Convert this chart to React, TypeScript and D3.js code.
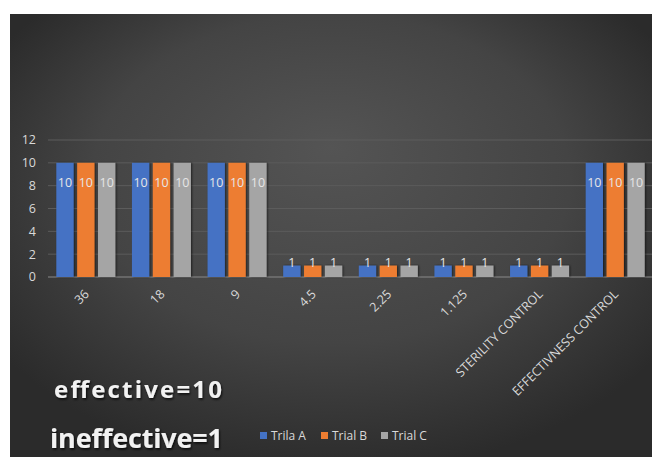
import React from "react";
import * as d3 from "d3";

const categories = ["36", "18", "9", "4.5", "2.25", "1.125", "STERILITY CONTROL", "EFFECTIVNESS CONTROL"];
const seriesNames = ["Trila A", "Trial B", "Trial C"];
const trialA = [10, 10, 10, 1, 1, 1, 1, 10];
const trialB = [10, 10, 10, 1, 1, 1, 1, 10];
const trialC = [10, 10, 10, 1, 1, 1, 1, 10];
const yTicks = [0, 2, 4, 6, 8, 10, 12];
const seriesColors = ["#4472C4", "#ED7D31", "#A5A5A5"];

const W = 652;
const H = 457;
const FONT = "'Open Sans', 'DejaVu Sans', sans-serif";

export default function App() {
  const series = [trialA, trialB, trialC];
  const x = d3.scaleBand<string>().domain(categories).range([48, 653]).paddingInner(0.22).paddingOuter(0.11);
  const xs = d3.scaleBand<number>().domain([0, 1, 2]).range([0, x.bandwidth()]).paddingInner(0.17);
  const y = d3.scaleLinear().domain([0, 12]).range([277, 140]);

  return (
    <svg width={W} height={H} style={{ position: "absolute", left: 0, top: 0, display: "block" }}>
      <defs>
        <radialGradient id="bg" cx="0.5" cy="0.42" r="0.62" fx="0.5" fy="0.3">
          <stop offset="0" stopColor="#545454" />
          <stop offset="0.6" stopColor="#444444" />
          <stop offset="1" stopColor="#2b2b2b" />
        </radialGradient>
        <filter id="sh" x="-30%" y="-10%" width="160%" height="120%">
          <feDropShadow dx="1" dy="0" stdDeviation="1.2" floodColor="#000" floodOpacity="0.6" />
        </filter>
        <filter id="tsh" x="-10%" y="-30%" width="120%" height="160%">
          <feDropShadow dx="1" dy="1.5" stdDeviation="1.2" floodColor="#000" floodOpacity="0.8" />
        </filter>
      </defs>
      <rect x={0} y={0} width={W} height={H} fill="#ffffff" />
      <rect x={10} y={14} width={W - 10} height={H - 14} fill="url(#bg)" />

      {/* gridlines */}
      {yTicks.map((t) => (
        <line key={"g" + t} x1={48} x2={652} y1={y(t)} y2={y(t)}
          stroke={t === 0 ? "#8a8a8a" : "#5c5c5c"} strokeWidth={1} />
      ))}
      {yTicks.map((t) => (
        <text key={"yt" + t} x={36} y={y(t)} dy="0.35em" textAnchor="end"
          fontFamily={FONT} fontSize={12.5} fill="#d9d9d9">{t}</text>
      ))}

      {/* bars */}
      {categories.map((c, i) => (
        <g key={c} transform={`translate(${x(c)},0)`}>
          {series.map((s, j) => {
            const v = s[i];
            const bx = xs(j)!;
            const bw = xs.bandwidth();
            return (
              <g key={j}>
                <rect x={bx} y={y(v)} width={bw} height={y(0) - y(v)} fill={seriesColors[j]} filter="url(#sh)" />
                {v >= 5 ? (
                  <text x={bx + bw / 2} y={y(v) + 24} textAnchor="middle" fontFamily={FONT} fontSize={12.5} fill="#e6e6e6">{v}</text>
                ) : (
                  <text x={bx + bw / 2} y={y(v) + 1} textAnchor="middle" fontFamily={FONT} fontSize={12.5} fill="#e6e6e6">{v}</text>
                )}
              </g>
            );
          })}
        </g>
      ))}

      {/* x labels */}
      {categories.map((c) => {
        const cx = x(c)! + x.bandwidth() / 2 + 4;
        const cy = 295;
        return (
          <text key={"xl" + c} transform={`translate(${cx},${cy}) rotate(-45)`} textAnchor="end"
            fontFamily={FONT} fontSize={12.5} fill="#d9d9d9">{c}</text>
        );
      })}

      {/* annotations */}
      <text x={54} y={398} fontFamily={FONT} fontWeight="bold" fontSize={24} fill="#f2f2f2"
        textLength={168} lengthAdjust="spacing" filter="url(#tsh)">effective=10</text>
      <text x={50} y={448} fontFamily={FONT} fontWeight="bold" fontSize={27} fill="#f2f2f2"
        textLength={173} lengthAdjust="spacing" filter="url(#tsh)">ineffective=1</text>

      {/* legend */}
      {seriesNames.map((n, j) => {
        const lx = [260, 321, 381][j];
        return (
          <g key={n}>
            <rect x={lx} y={432} width={7} height={7} fill={seriesColors[j]} />
            <text x={lx + 11} y={436} dy="0.35em" fontFamily={FONT} fontSize={12} fill="#d9d9d9">{n}</text>
          </g>
        );
      })}
    </svg>
  );
}
